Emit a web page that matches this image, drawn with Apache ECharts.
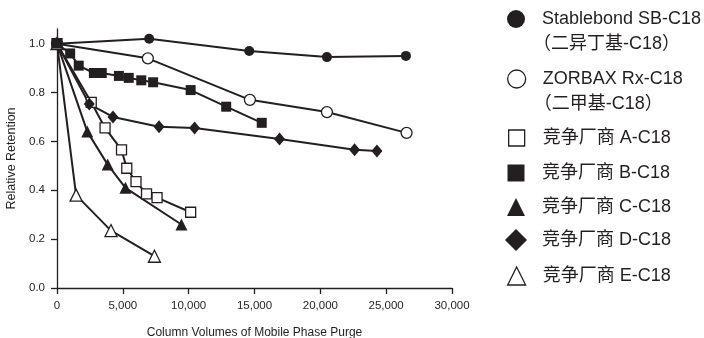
<!DOCTYPE html>
<html>
<head>
<meta charset="utf-8">
<script src="https://cdn.jsdelivr.net/npm/echarts@6/dist/echarts.min.js"></script>
<style>html,body{margin:0;padding:0;background:#fff;}#c{width:704px;height:338px;}</style>
</head>
<body>
<div id="c"></div>
<script>
// ---- data ----
const seriesNames = ['Stablebond SB-C18', 'ZORBAX Rx-C18', '竞争厂商 A-C18', '竞争厂商 B-C18', '竞争厂商 C-C18', '竞争厂商 D-C18', '竞争厂商 E-C18'];
const seriesSubNames = ['（二异丁基-C18）', '（二甲基-C18）', '', '', '', '', ''];

const sbX = [0, 7000, 14600, 20500, 26500];
const sbY = [1.0, 1.02, 0.97, 0.945, 0.95];
const zorX = [0, 6900, 14650, 20500, 26550];
const zorY = [1.0, 0.94, 0.77, 0.72, 0.635];
const aX = [0, 2600, 3650, 4900, 5300, 6000, 6800, 7600, 10150];
const aY = [1.0, 0.76, 0.655, 0.565, 0.49, 0.435, 0.385, 0.37, 0.31];
const bX = [0, 1000, 1650, 2800, 3400, 4700, 5450, 6400, 7300, 10150, 12850, 15550];
const bY = [1.0, 0.96, 0.91, 0.88, 0.88, 0.868, 0.86, 0.85, 0.842, 0.81, 0.742, 0.676];
const cX = [0, 2300, 3850, 5200, 9450];
const cY = [1.0, 0.64, 0.505, 0.41, 0.26];
const dX = [0, 2450, 4250, 7750, 10450, 16900, 22600, 24300];
const dY = [1.0, 0.753, 0.70, 0.66, 0.655, 0.61, 0.566, 0.561];
const eX = [0, 1450, 4100, 7400];
const eY = [1.0, 0.38, 0.235, 0.13];

const yTicks = [0, 0.2, 0.4, 0.6, 0.8, 1.0];
const xTicks = [0, 5000, 10000, 15000, 20000, 25000, 30000];
const xAxisTitle = 'Column Volumes of Mobile Phase Purge';
const yAxisTitle = 'Relative Retention';

// ---- styling ----
const INK = '#231f20';
const FONT = "'Liberation Sans', 'Noto Sans CJK SC', sans-serif";
const seriesXs = [sbX, zorX, aX, bX, cX, dX, eX];
const seriesYs = [sbY, zorY, aY, bY, cY, dY, eY];
const symbols = ['circle', 'circle', 'rect', 'rect', 'triangle', 'diamond', 'triangle'];
const filled = [true, false, false, true, true, true, false];
const sizes = [10, 11, 10, 10, 12, [11, 13], 12];
const zs = [2, 2, 2, 5, 2, 2, 2];
const legendCenters = [19, 79, 138, 173, 207, 240, 276];
const legendIconSize = [18, 18, 16, 17, 18, 22, 18];

function pairs(xs, ys) { return xs.map((x, i) => [x, ys[i]]); }

const series = seriesNames.map((name, i) => ({
  name: name,
  type: 'line',
  data: pairs(seriesXs[i], seriesYs[i]),
  symbol: symbols[i],
  symbolSize: sizes[i],
  showAllSymbol: true,
  z: zs[i],
  lineStyle: { color: INK, width: 2 },
  itemStyle: { color: filled[i] ? INK : '#ffffff', borderColor: INK, borderWidth: filled[i] ? 0 : 1.3, opacity: 1 },
  emphasis: { disabled: true },
  animation: false
}));

const LH = 25;
const SUB_SHIFT = 9;
const baseText = { fontFamily: FONT, fontSize: 18, color: INK, lineHeight: LH };
const legends = seriesNames.map((name, i) => {
  const H = legendIconSize[i];
  const twoLine = !!seriesSubNames[i];
  const lines = twoLine ? 3 : 1;
  const topOff = Math.min(0, H / 2 - lines * LH / 2);
  const top = legendCenters[i] - (H / 2 - topOff);
  const padLeft = 21 - H / 2 - (twoLine ? SUB_SHIFT : 0);
  return {
    data: [{ name: name, icon: symbols[i], itemStyle: { color: filled[i] ? INK : '#ffffff', borderColor: INK, borderWidth: filled[i] ? 0 : 1.3 } }],
    left: 516 - H / 2,
    top: top,
    padding: 0,
    itemWidth: H,
    itemHeight: H,
    selectedMode: false,
    formatter: function (n) {
      return twoLine ? '{g| }\n{a|' + n + '}\n{b|' + seriesSubNames[i] + '}' : n;
    },
    textStyle: Object.assign({}, baseText, {
      padding: [0, 0, 0, padLeft],
      rich: {
        g: Object.assign({}, baseText),
        a: Object.assign({}, baseText, { padding: [0, 0, 0, SUB_SHIFT] }),
        b: Object.assign({}, baseText)
      }
    })
  };
});

const chart = echarts.init(document.getElementById('c'), null, { renderer: 'canvas' });
chart.setOption({
  animation: false,
  backgroundColor: '#ffffff',
  grid: { left: 57, right: 252, top: 29, bottom: 50, containLabel: false, outerBoundsMode: 'none' },
  legend: legends,
  xAxis: {
    type: 'value', min: 0, max: 30000, interval: 5000,
    name: xAxisTitle, nameLocation: 'middle', nameGap: 39,
    nameTextStyle: { fontFamily: FONT, fontSize: 12, color: INK },
    axisLine: { lineStyle: { color: INK, width: 1.3 } },
    axisTick: { show: true, length: 6, lineStyle: { color: INK, width: 1.3 } },
    axisLabel: { margin: 12, fontFamily: FONT, fontSize: 11.5, color: INK,
      formatter: v => v.toLocaleString('en-US') },
    splitLine: { show: false }
  },
  yAxis: {
    type: 'value', min: 0, max: 1.06,
    name: yAxisTitle, nameLocation: 'middle', nameGap: 31, nameRotate: 90,
    nameTextStyle: { fontFamily: FONT, fontSize: 12.5, color: INK },
    axisLine: { show: true, lineStyle: { color: INK, width: 1.3 } },
    axisTick: { show: true, length: 6, customValues: yTicks, lineStyle: { color: INK, width: 1.3 } },
    axisLabel: { margin: 12, fontFamily: FONT, fontSize: 11.5, color: INK, customValues: yTicks,
      formatter: v => v.toFixed(1) },
    splitLine: { show: false }
  },
  series: series
});
</script>
</body>
</html>
